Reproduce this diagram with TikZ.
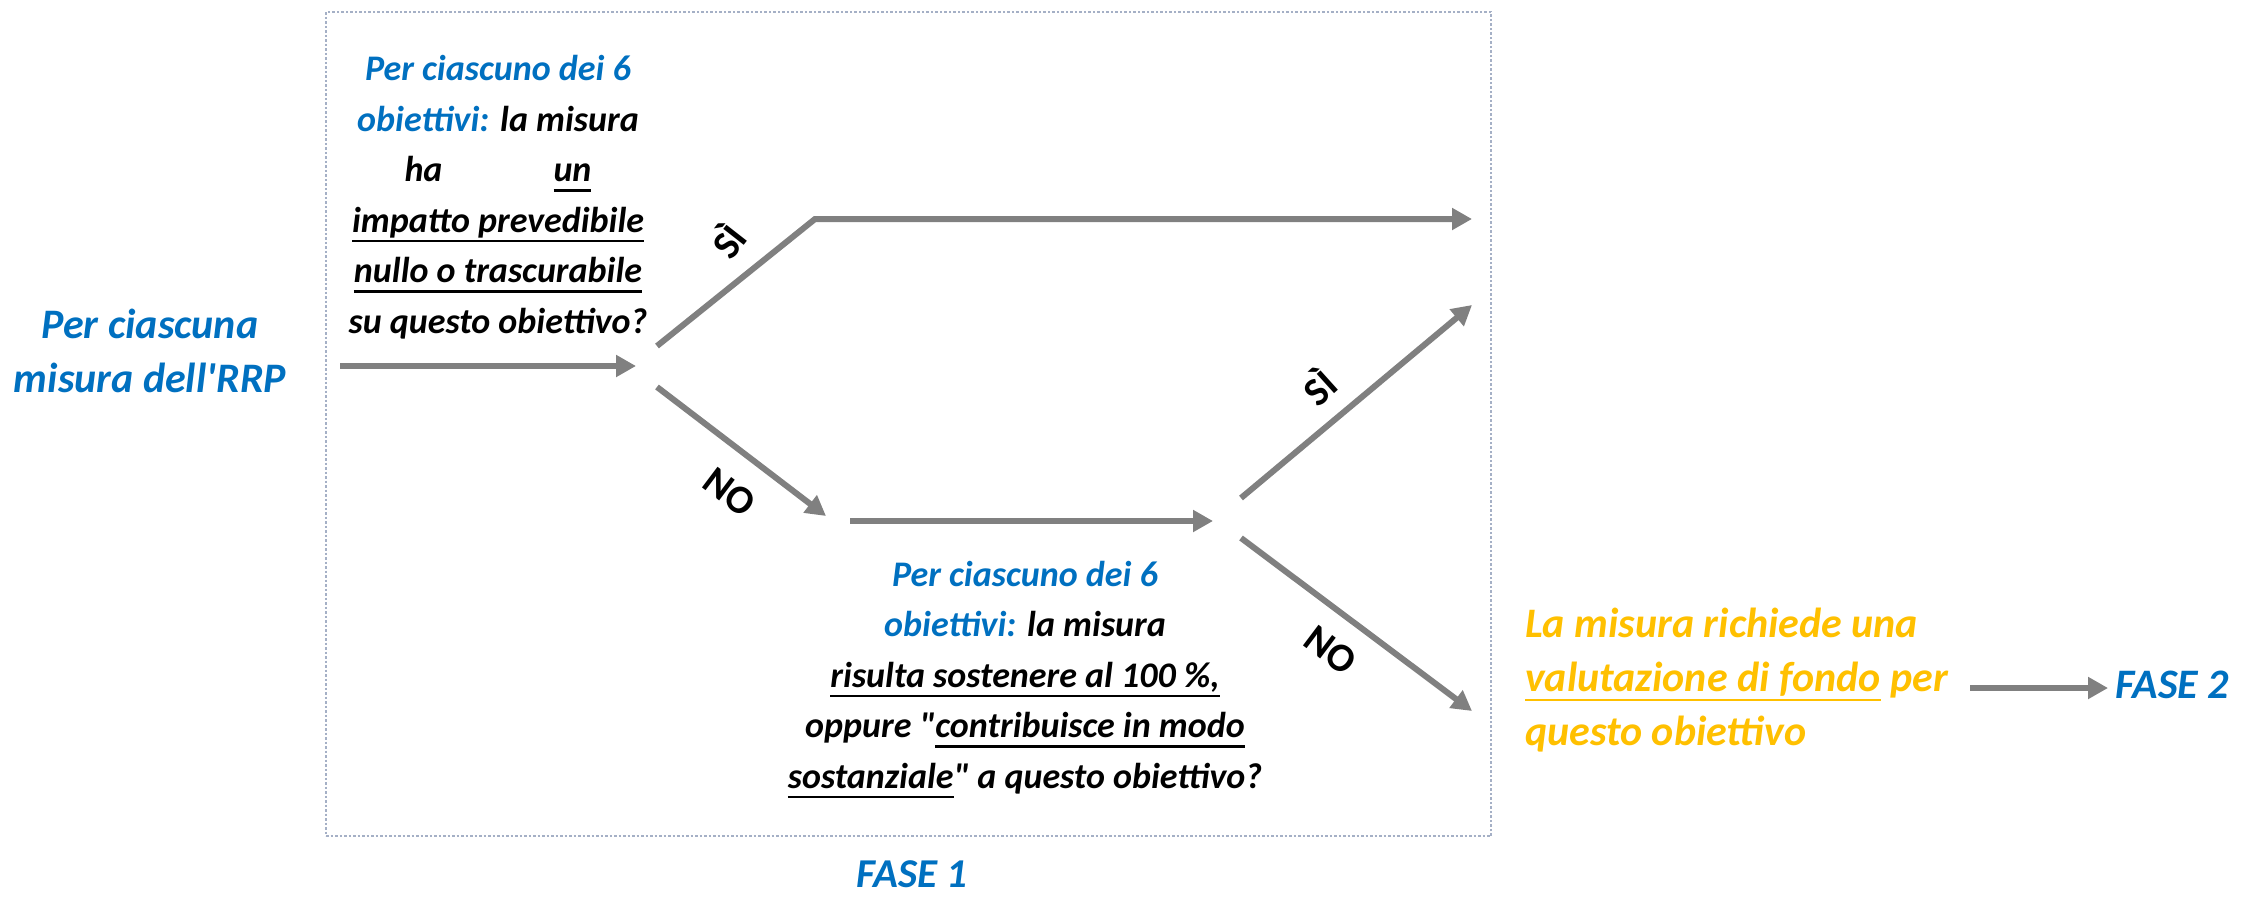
\documentclass[tikz,border=0pt]{standalone}
\usepackage{fontspec}
\setmainfont{Carlito}[Ligatures=TeXOff]
\newsavebox\ulbox
\newcommand\myul[1]{\sbox\ulbox{#1}\rlap{\rule[-10pt]{\wd\ulbox}{2.5pt}}\usebox{\ulbox}}
\usetikzlibrary{arrows.meta}
\definecolor{qblue}{RGB}{0,112,192}
\definecolor{qyellow}{RGB}{255,192,0}
\definecolor{arrgray}{RGB}{128,128,128}
\definecolor{boxgray}{RGB}{165,176,198}
\tikzset{
  arr/.style={draw=arrgray, line width=6pt, -{Triangle[length=20pt,width=21pt]}},
  qtext/.style={inner sep=0pt, align=center, anchor=base, font=\fontsize{36}{50.5}\selectfont\bfseries\itshape},
  lbl/.style={inner sep=0pt, font=\fontsize{40}{44}\selectfont\bfseries},
  fasebox/.style={draw=boxgray, line width=2pt, dash pattern=on 2.5pt off 2pt, inner sep=0pt},
}
\begin{document}
\begin{tikzpicture}[x=1pt,y=-1pt]
\useasboundingbox (0,0) rectangle (2262,897);
\fill[white] (0,0) rectangle (2262,897);
% dotted phase box
\node[fasebox, minimum width=1165pt, minimum height=824pt] (box1) at (908.5,424) {};
\node[inner sep=0pt, anchor=base, text=qblue, font=\fontsize{41}{50}\selectfont\bfseries\itshape] (fase1) at (912,887) {FASE 1};
% left text
\node[inner sep=0pt, align=center, anchor=base, text=qblue, font=\fontsize{42}{54}\selectfont\bfseries\itshape] (start) at (150,392) {Per ciascuna\\misura dell'RRP};
% question 1
\node[qtext] (q1) at (498,333) {{\color{qblue}Per ciascuno dei 6}\\
{\color{qblue}obiettivi:} la misura\\
ha\hspace*{111pt}\myul{un}\\
\myul{impatto prevedibile}\\
\myul{nullo o trascurabile}\\
su questo obiettivo?};
% question 2
\node[qtext] (q2) at (1025,788) {{\color{qblue}Per ciascuno dei 6}\\
{\color{qblue}obiettivi:} la misura\\
\myul{risulta sostenere al 100 \%,}\\
oppure "\myul{contribuisce in modo}\\
\myul{sostanziale}" a questo obiettivo?};
% result text
\node[inner sep=0pt, align=left, anchor=base west, text=qyellow, font=\fontsize{42}{54}\selectfont\bfseries\itshape] (res) at (1525,745) {La misura richiede una\\
\myul{valutazione di fondo} per\\
questo obiettivo};
\node[inner sep=0pt, anchor=base west, text=qblue, font=\fontsize{42}{50}\selectfont\bfseries\itshape] (fase2) at (2115,698) {FASE 2};
% connector coordinates
\coordinate (a1s) at (340,366);
\coordinate (a1e) at (636,366);
\coordinate (b1s) at (657,346);
\coordinate (b1k) at (815,219);
\coordinate (b1e) at (1472,219);
\coordinate (b2s) at (657,387);
\coordinate (b2e) at (826,516);
\coordinate (ms) at (850,521);
\coordinate (me) at (1213,521);
\coordinate (c1s) at (1241,498);
\coordinate (c1e) at (1472,305);
\coordinate (c2s) at (1241,538);
\coordinate (c2e) at (1472,711);
\coordinate (fs) at (1970,688);
\coordinate (fe) at (2108,688);
\draw[arr] (a1s) -- (a1e);
\draw[arr] (b1s) -- (b1k) -- (b1e);
\draw[arr] (b2s) -- (b2e);
\draw[arr] (ms) -- (me);
\draw[arr] (c1s) -- (c1e);
\draw[arr] (c2s) -- (c2e);
\draw[arr] (fs) -- (fe);
% branch labels
\node[lbl, rotate=52] (si1) at (727,240) {SÌ};
\node[lbl, rotate=-37] (no1) at (730,492) {NO};
\node[lbl, rotate=42] (si2) at (1318,386) {SÌ};
\node[lbl, rotate=-37] (no2) at (1331,650) {NO};
\end{tikzpicture}
\end{document}
